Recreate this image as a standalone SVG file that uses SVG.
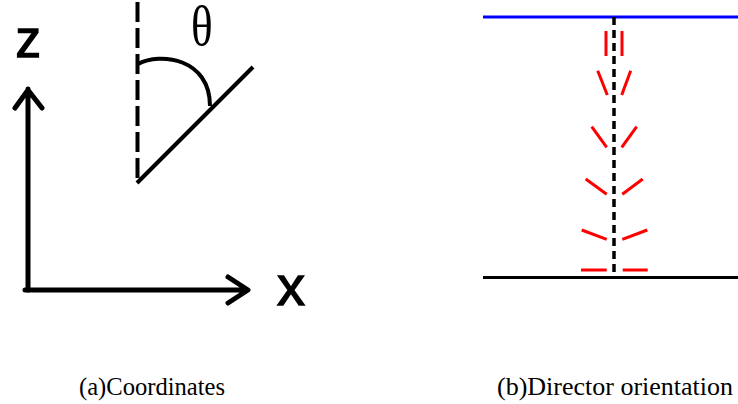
<svg xmlns="http://www.w3.org/2000/svg" width="738" height="404" viewBox="0 0 738 404">
<style>
.ax{fill:none;stroke:#000;stroke-width:5;stroke-linecap:round;stroke-linejoin:round}
.blk{fill:none;stroke:#000;stroke-width:4}
.red{stroke:#f00;stroke-width:3;fill:none}
.sans{font-family:"Liberation Sans",Arial,sans-serif;fill:#000;stroke:#000;stroke-width:1.3}
.serif{font-family:"Liberation Serif","Times New Roman",serif;fill:#000}
.cap{font-size:26px}
</style>
<rect width="738" height="404" fill="#fff"/>
<g id="panel-a">
  <g id="axes">
    <path class="ax" d="M28,290 V89 M15,108 L28,90 L42,108"/>
    <path class="ax" d="M25,290 H247 M228,277 L248,290 L228,303"/>
    <text class="sans" x="15.5" y="56.5" font-size="51">z</text>
    <text class="sans" x="277" y="304.5" font-size="56">x</text>
  </g>
  <g id="angle">
    <line class="blk" x1="137.5" y1="2" x2="137.5" y2="183" stroke-dasharray="20,6"/>
    <line class="blk" x1="137" y1="183" x2="253" y2="67"/>
    <path class="blk" d="M138,64 C160,52 210,58 210,106"/>
    <text class="serif" transform="translate(191,45) scale(0.78,1)" font-size="58">θ</text>
  </g>
  <text class="serif cap" x="79" y="395" textLength="146" lengthAdjust="spacingAndGlyphs">(a)Coordinates</text>
</g>
<g id="panel-b">
  <line x1="483" y1="17" x2="738" y2="17" stroke="#00f" stroke-width="3"/>
  <line x1="483" y1="277.5" x2="738" y2="277.5" stroke="#000" stroke-width="3"/>
  <line x1="614" y1="17" x2="614" y2="277" stroke="#000" stroke-width="3.5" stroke-dasharray="8,5"/>
  <g id="directors" class="red">
    <line x1="606" y1="31" x2="606" y2="56"/><line x1="622" y1="31" x2="622" y2="56"/>
    <line x1="597.7" y1="70.7" x2="607.3" y2="95"/><line x1="630.7" y1="70.7" x2="621.7" y2="95"/>
    <line x1="591.7" y1="126.7" x2="606.7" y2="147.3"/><line x1="636.7" y1="126.7" x2="621.7" y2="147.3"/>
    <line x1="585.7" y1="179" x2="606.7" y2="194.3"/><line x1="642.7" y1="179" x2="622.3" y2="194.3"/>
    <line x1="581.7" y1="230" x2="606.7" y2="239.3"/><line x1="647.3" y1="230" x2="622.3" y2="239.3"/>
    <line x1="581" y1="270" x2="606.7" y2="270"/><line x1="622.7" y1="270" x2="647.7" y2="270"/>
  </g>
  <text class="serif cap" x="497" y="395">(b)Director orientation</text>
</g>
</svg>
